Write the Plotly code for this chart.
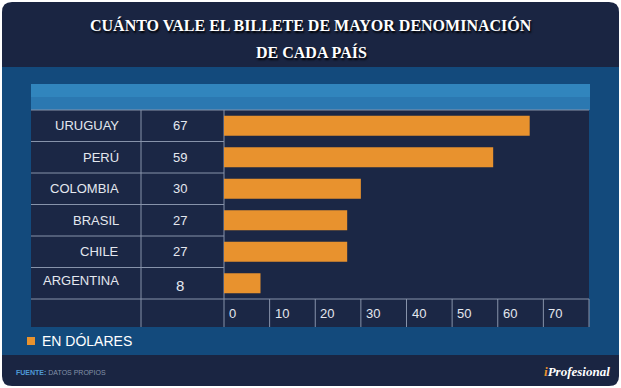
import plotly.graph_objects as go

# ---- data ----
countries = ["URUGUAY", "PERÚ", "COLOMBIA", "BRASIL", "CHILE", "ARGENTINA"]
values = [67, 59, 30, 27, 27, 8]
x_ticks = [0, 10, 20, 30, 40, 50, 60, 70]
title_lines = ["CUÁNTO VALE EL BILLETE DE MAYOR DENOMINACIÓN", "DE CADA PAÍS"]
legend_label = "EN DÓLARES"
source_label = "FUENTE:"
source_text = "DATOS PROPIOS"

W, H = 621, 388
NAVY = "#1a2542"
BAND = "#134a7c"
HEADBAR = "#2b78b1"
CELL = "#1b2745"
LINE = "#8793aa"
ORANGE = "#e8922e"
TXT = "#e4e8ef"


def px(x):
    return x / W


def py(y):
    return 1 - y / H


def rounded_path(x0, y0, x1, y1, r):
    rx, ry = r / W, r / H
    X0, X1 = px(x0), px(x1)
    Y0, Y1 = py(y0), py(y1)
    return (f"M {X0+rx},{Y0} L {X1-rx},{Y0} Q {X1},{Y0} {X1},{Y0-ry} "
            f"L {X1},{Y1+ry} Q {X1},{Y1} {X1-rx},{Y1} "
            f"L {X0+rx},{Y1} Q {X0},{Y1} {X0},{Y1+ry} "
            f"L {X0},{Y0-ry} Q {X0},{Y0} {X0+rx},{Y0} Z")


fig = go.Figure()
fig.add_trace(go.Bar(
    y=countries, x=values, orientation="h", width=0.64,
    marker=dict(color=ORANGE, line=dict(width=0)),
    hoverinfo="skip", showlegend=False,
))

TBL_L, TBL_R = 31, 589
COL1, COL2 = 141, 224
TOP, ROWS_BOT, BOT = 110, 299, 327

shapes = []
shapes.append(dict(type="path", xref="paper", yref="paper",
                   path=rounded_path(2, 2, 619, 386, 10),
                   fillcolor=NAVY, line=dict(width=0), layer="below"))
shapes.append(dict(type="rect", xref="paper", yref="paper",
                   x0=px(2), x1=px(619), y0=py(355), y1=py(67),
                   fillcolor=BAND, line=dict(width=0), layer="below"))
shapes.append(dict(type="rect", xref="paper", yref="paper",
                   x0=px(TBL_L), x1=px(590), y0=py(TOP), y1=py(84),
                   fillcolor=HEADBAR, line=dict(width=0), layer="below"))
shapes.append(dict(type="rect", xref="paper", yref="paper",
                   x0=px(TBL_L), x1=px(590), y0=py(97), y1=py(84),
                   fillcolor="#3185bd", line=dict(width=0), layer="below"))
shapes.append(dict(type="rect", xref="paper", yref="paper",
                   x0=px(TBL_L), x1=px(TBL_R), y0=py(BOT), y1=py(TOP),
                   fillcolor=CELL, line=dict(width=0), layer="below"))
for yy in (TOP, ROWS_BOT):
    shapes.append(dict(type="line", xref="paper", yref="paper",
                       x0=px(TBL_L), x1=px(TBL_R), y0=py(yy), y1=py(yy),
                       line=dict(color=LINE, width=1), layer="below"))
for k in range(len(countries) - 1):
    shapes.append(dict(type="line", xref="paper", yref="y",
                       x0=px(TBL_L), x1=px(COL2), y0=k + 0.5, y1=k + 0.5,
                       line=dict(color=LINE, width=1), layer="below"))
for xx in (COL1, COL2):
    shapes.append(dict(type="line", xref="paper", yref="paper",
                       x0=px(xx), x1=px(xx), y0=py(BOT), y1=py(TOP),
                       line=dict(color=LINE, width=1), layer="below"))
for t in x_ticks[1:]:
    shapes.append(dict(type="line", xref="x", yref="paper",
                       x0=t, x1=t, y0=py(BOT), y1=py(ROWS_BOT),
                       line=dict(color=LINE, width=1), layer="below"))
shapes.append(dict(type="line", xref="paper", yref="paper",
                   x0=px(TBL_R), x1=px(TBL_R), y0=py(BOT), y1=py(ROWS_BOT),
                   line=dict(color=LINE, width=1), layer="below"))
shapes.append(dict(type="rect", xref="paper", yref="paper",
                   x0=px(27), x1=px(35), y0=py(345), y1=py(337),
                   fillcolor=ORANGE, line=dict(width=0)))

ann = []
SANS = "Liberation Sans, Arial, sans-serif"
SERIF = "Liberation Serif, Times New Roman, serif"
for i, line in enumerate(title_lines):
    ann.append(dict(xref="paper", yref="paper", x=px(311), y=py(25 + 27 * i),
                    text=line, showarrow=False, xanchor="center", yanchor="middle",
                    font=dict(family=SERIF, size=16, color="#ffffff",
                              weight="bold", shadow="1px 2px 2px #000000")))
for c, v in zip(countries, values):
    shift = 3 if c == "ARGENTINA" else 0
    ann.append(dict(xref="paper", yref="y", x=px(121), y=c, text=c,
                    showarrow=False, xanchor="right", yanchor="middle", yshift=shift,
                    font=dict(family=SANS, size=13, color=TXT)))
    ann.append(dict(xref="paper", yref="y", x=px(180), y=c, text=str(v),
                    showarrow=False, xanchor="center", yanchor="middle",
                    yshift=-2 if v < 10 else 0,
                    font=dict(family=SANS, size=15 if v < 10 else 13, color=TXT)))
for t in x_ticks:
    ann.append(dict(xref="x", yref="paper", x=t, y=py(313), text=str(t),
                    showarrow=False, xanchor="left", yanchor="middle", xshift=3,
                    font=dict(family=SANS, size=13, color=TXT)))
ann.append(dict(xref="paper", yref="paper", x=px(40), y=py(341), text=legend_label,
                showarrow=False, xanchor="left", yanchor="middle",
                font=dict(family=SANS, size=14, color="#ffffff")))
ann.append(dict(xref="paper", yref="paper", x=px(14), y=py(372),
                text=f"<b><span style='color:#4f9ad6'>{source_label}</span></b> {source_text}",
                showarrow=False, xanchor="left", yanchor="middle",
                font=dict(family=SANS, size=7, color="#8391a8")))
ann.append(dict(xref="paper", yref="paper", x=px(612), y=py(371),
                text="<i><b><span style='color:#e8922e'>i</span>Profesional</b></i>",
                showarrow=False, xanchor="right", yanchor="middle",
                font=dict(family=SERIF, size=13, color="#ffffff")))

fig.update_layout(
    width=W, height=H, margin=dict(l=0, r=0, t=0, b=0),
    paper_bgcolor="#ffffff", plot_bgcolor="rgba(0,0,0,0)",
    xaxis=dict(domain=[px(224), px(589)], range=[0, 80], showgrid=False,
               zeroline=False, showticklabels=False, showline=False, fixedrange=True),
    yaxis=dict(domain=[py(ROWS_BOT), py(TOP)], range=[len(countries) - 0.5, -0.5],
               type="category", categoryorder="array", categoryarray=countries,
               showgrid=False, zeroline=False, showticklabels=False, fixedrange=True),
    shapes=shapes, annotations=ann, bargap=0.3,
)

fig.write_html("out.html", config={"displayModeBar": False},
               post_script="document.body.style.margin='0';document.body.style.overflow='hidden';")
